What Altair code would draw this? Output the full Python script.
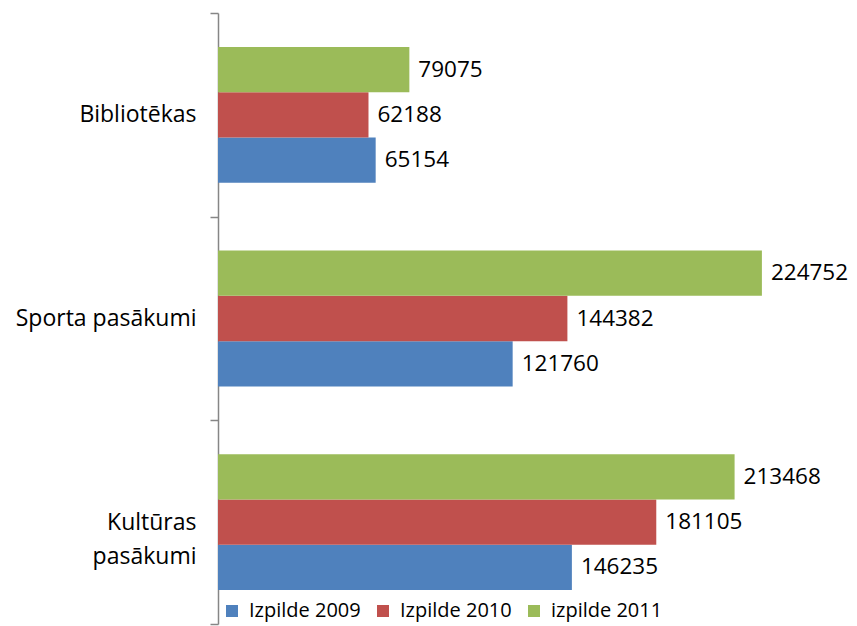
import altair as alt
import pandas as pd

categories = ["Bibliotēkas", "Sporta pasākumi", "Kultūras\u00a0|pasākumi"]
series = ["Izpilde 2009", "Izpilde 2010", "izpilde 2011"]
colors = ["#4F81BD", "#C0504D", "#9BBB59"]
v2009 = [65154, 121760, 146235]
v2010 = [62188, 144382, 181105]
v2011 = [79075, 224752, 213468]

rows = []
for i, c in enumerate(categories):
    for s, vals in zip(series, [v2009, v2010, v2011]):
        rows.append({"cat": c, "series": s, "value": vals[i]})
df = pd.DataFrame(rows)

font = "Open Sans"
order = ["izpilde 2011", "Izpilde 2010", "Izpilde 2009"]

y_enc = alt.Y("cat:N", sort=categories, title=None,
              scale=alt.Scale(paddingInner=0, paddingOuter=0),
              axis=alt.Axis(labelExpr="split(datum.label, '|')", labelFontSize=23,
                            labelFont=font, labelColor="#000000", labelPadding=14,
                            tickBand="extent", tickSize=8, tickColor="#868686",
                            tickWidth=1.5, domainColor="#868686", domainWidth=1.5,
                            labelLineHeight=34, labelLimit=300))
yoff = alt.YOffset("series:N", sort=order, scale=alt.Scale(paddingInner=0, paddingOuter=0.75))
x_enc = alt.X("value:Q", scale=alt.Scale(domain=[0, 250000]), axis=None)

bars = alt.Chart(df).mark_bar().encode(
    x=x_enc, y=y_enc, yOffset=yoff,
    color=alt.Color("series:N", sort=series,
                    scale=alt.Scale(domain=series, range=colors),
                    legend=alt.Legend(title=None, orient="none", direction="horizontal",
                                      legendX=4, legendY=588, symbolType="square",
                                      symbolSize=144, symbolStrokeWidth=0,
                                      labelFont=font, labelFontSize=20,
                                      labelColor="#000000", columnPadding=12,
                                      labelOffset=7, symbolOpacity=1)),
)

labels = alt.Chart(df).mark_text(align="left", baseline="middle", dx=9,
                                 fontSize=22.5, font=font, color="#000000").encode(
    x=x_enc, y=alt.Y("cat:N", sort=categories), yOffset=yoff,
    text=alt.Text("value:Q", format="d"),
)

chart = (bars + labels).properties(
    width=605, height=611,
    autosize=alt.AutoSizeParams(type="none"),
    padding={"left": 210, "top": 5, "right": 26, "bottom": 2},
).configure_view(stroke=None)

chart.save("out.html", embed_options={"renderer": "svg", "actions": False})
